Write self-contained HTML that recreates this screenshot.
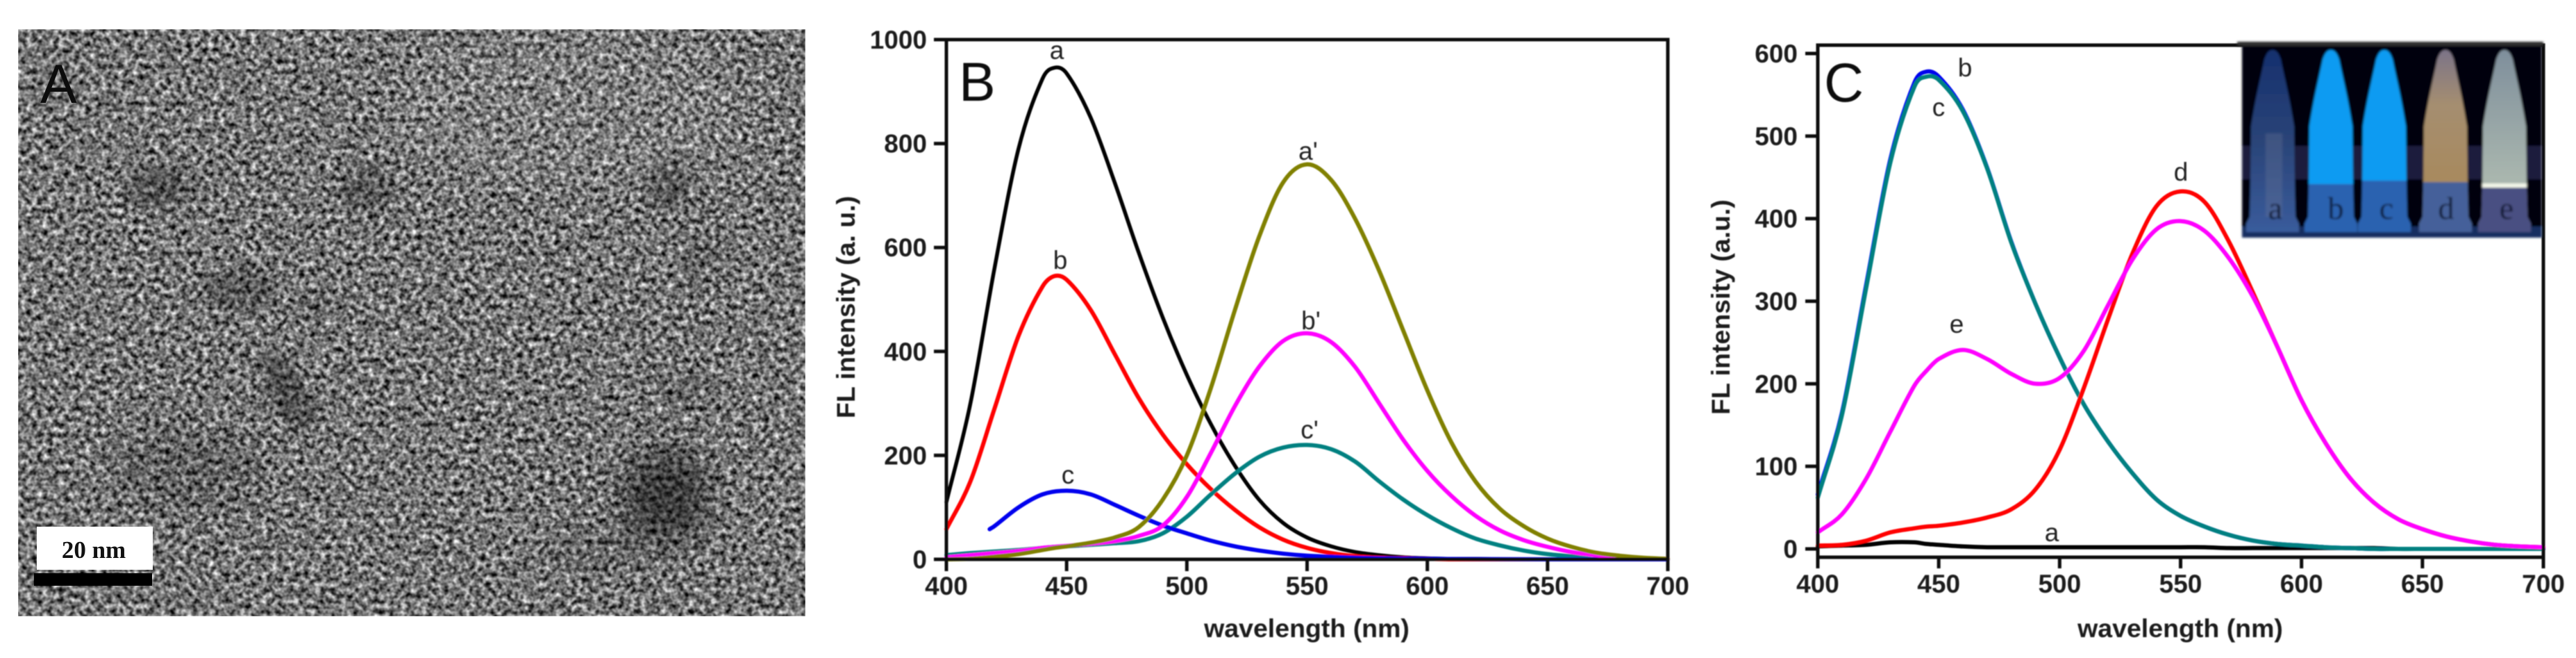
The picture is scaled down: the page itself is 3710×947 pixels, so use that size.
<!DOCTYPE html>
<html lang="en">
<head>
<meta charset="utf-8">
<title>TEM image and fluorescence spectra</title>
<style>
html,body{margin:0;padding:0;background:#fff;}
svg{display:block;}
text{font-family:"Liberation Sans",sans-serif;fill:#1a1a1a;}
.tick{font-weight:bold;font-size:37px;}
.title{font-weight:bold;font-size:37.5px;}
.lbl{font-size:37px;text-anchor:middle;fill:#222;}
.pan{font-size:79px;fill:#0c0c0c;}
.ins{font-family:"Liberation Serif",serif;font-size:46px;text-anchor:middle;fill:#0f1730;}
</style>
</head>
<body>
<svg id="figure" xmlns="http://www.w3.org/2000/svg" width="3710" height="947" viewBox="0 0 3710 947">
  <defs>
    <filter id="grain" x="0" y="0" width="100%" height="100%" color-interpolation-filters="sRGB">
      <feTurbulence type="fractalNoise" baseFrequency="0.13" numOctaves="2" seed="7"/>
      <feColorMatrix type="matrix" values="1.5 0 0 0 -0.29  1.5 0 0 0 -0.29  1.5 0 0 0 -0.29  0 0 0 0 1"/>
      <feGaussianBlur stdDeviation="0.9"/>
    </filter>
    <filter id="soft" x="-40%" y="-40%" width="180%" height="180%"><feGaussianBlur stdDeviation="22"/></filter>
    <filter id="soft2" x="-40%" y="-40%" width="180%" height="180%"><feGaussianBlur stdDeviation="10"/></filter>
    <filter id="ink" x="-2%" y="-2%" width="104%" height="104%"><feGaussianBlur stdDeviation="0.9"/></filter>
    <filter id="inkInset" x="-2%" y="-2%" width="104%" height="104%"><feGaussianBlur stdDeviation="1.6"/></filter>
    <path id="tube-shape" d="M-12,14 C-8,2 -4,0 0,0 C4,0 8,2 12,14 C16,35 24,65 31,110 L32,200 L33,240 L38,250 L38,262 L-38,262 L-38,250 L-33,240 L-32,200 L-31,110 C-24,65 -16,35 -12,14 Z"/>
    <clipPath id="tube-clip"><use href="#tube-shape"/></clipPath>
    <linearGradient id="tube-a-fill" x1="0" y1="0" x2="0" y2="1">
      <stop offset="0" stop-color="#16306e"/>
      <stop offset="0.5" stop-color="#2a4478"/>
      <stop offset="1" stop-color="#3a5c9c"/>
    </linearGradient>
    <linearGradient id="tube-e-fill" x1="0" y1="0" x2="0" y2="1">
      <stop offset="0" stop-color="#7f8f9c"/>
      <stop offset="0.7" stop-color="#a9b6ae"/>
    </linearGradient>
    <linearGradient id="tube-d-fill" x1="0" y1="0" x2="0" y2="1">
      <stop offset="0" stop-color="#7c7488"/>
      <stop offset="0.3" stop-color="#a58e70"/>
      <stop offset="0.7" stop-color="#a88a5f"/>
    </linearGradient>
  </defs>

  <rect x="0" y="0" width="3710" height="947" fill="#ffffff"/>

  <!-- Panel A: TEM micrograph -->
  <g id="panel-a">
    <rect x="26" y="42" width="1134" height="845" fill="#777" filter="url(#grain)"/>
    <g fill="#000">
      <ellipse cx="230" cy="269" rx="48" ry="30" opacity=".28" filter="url(#soft2)"/>
      <ellipse cx="528" cy="272" rx="40" ry="32" opacity=".24" filter="url(#soft2)"/>
      <ellipse cx="964" cy="266" rx="30" ry="38" opacity=".26" filter="url(#soft2)"/>
      <ellipse cx="344" cy="417" rx="52" ry="30" opacity=".26" filter="url(#soft2)"/>
      <ellipse cx="451" cy="441" rx="24" ry="18" opacity=".2" filter="url(#soft2)"/>
      <ellipse cx="415" cy="565" rx="26" ry="60" transform="rotate(-28 415 565)" opacity=".34" filter="url(#soft2)"/>
      <ellipse cx="958" cy="715" rx="62" ry="68" opacity=".5" filter="url(#soft)"/>
      <ellipse cx="268" cy="677" rx="110" ry="60" opacity=".16" filter="url(#soft)"/>
      <ellipse cx="1010" cy="375" rx="30" ry="34" opacity=".14" filter="url(#soft2)"/>
      <ellipse cx="987" cy="562" rx="36" ry="30" opacity=".12" filter="url(#soft2)"/>
      <ellipse cx="860" cy="790" rx="70" ry="30" opacity=".14" filter="url(#soft)"/>
    </g>
    <ellipse cx="820" cy="160" rx="260" ry="110" fill="#fff" opacity=".07" filter="url(#soft)"/>
    <text class="pan" x="58" y="148">A</text>
    <rect x="53" y="758" width="167" height="62" fill="#ffffff"/>
    <rect x="49" y="825" width="170" height="18" fill="#000000"/>
    <text x="135" y="803" text-anchor="middle" style="font-family:'Liberation Serif',serif;font-weight:bold;font-size:35px;fill:#111">20 nm</text>
  </g>

  <!-- Panel B -->
  <g id="panel-b" filter="url(#ink)">
    <g id="b-series"></g>
    <rect x="1363" y="57" width="1039" height="748" fill="none" stroke="#111" stroke-width="5"/>
    <g id="b-axes"></g>
    <text class="pan" x="1381" y="145">B</text>
    <text class="title" x="1882" y="917" text-anchor="middle">wavelength (nm)</text>
    <text class="title" transform="translate(1231,442) rotate(-90)" text-anchor="middle">FL intensity (a. u.)</text>
    <text class="lbl" x="1522" y="85">a</text>
    <text class="lbl" x="1527" y="387">b</text>
    <text class="lbl" x="1538" y="696">c</text>
    <text class="lbl" x="1884" y="230">a'</text>
    <text class="lbl" x="1888" y="474">b'</text>
    <text class="lbl" x="1886" y="631">c'</text>
  </g>

  <!-- Panel C -->
  <g id="panel-c" filter="url(#ink)">
    <g id="c-series"></g>
    <rect x="2618" y="65" width="1045" height="737" fill="none" stroke="#111" stroke-width="5"/>
    <g id="c-axes"></g>
    <text class="pan" x="2627" y="146">C</text>
    <text class="title" x="3140" y="917" text-anchor="middle">wavelength (nm)</text>
    <text class="title" transform="translate(2491,442) rotate(-90)" text-anchor="middle">FL intensity (a.u.)</text>
    <text class="lbl" x="2830" y="110">b</text>
    <text class="lbl" x="2792" y="167">c</text>
    <text class="lbl" x="3141" y="260">d</text>
    <text class="lbl" x="2818" y="479">e</text>
    <text class="lbl" x="2955" y="779">a</text>
  </g>

  <!-- Inset photograph of tubes -->
  <g id="inset" filter="url(#inkInset)">
    <rect x="3222" y="60" width="441" height="6" fill="#333"/>
    <rect x="3229" y="66" width="432" height="276" fill="#050508"/>
    <rect x="3229" y="210" width="432" height="48" fill="#1a1d3c"/>
    <rect x="3229" y="326" width="432" height="16" fill="#162e60"/>

    <g transform="translate(3273,72)">
      <use href="#tube-shape" fill="url(#tube-a-fill)"/>
      <rect x="-10" y="120" width="24" height="120" fill="#6f7a98" opacity=".3" clip-path="url(#tube-clip)"/>
    </g>
    <g transform="translate(3357,72)">
      <use href="#tube-shape" fill="#2a62b0"/>
      <rect x="-50" y="0" width="100" height="193" fill="#0a9bf2" clip-path="url(#tube-clip)"/>
    </g>
    <g transform="translate(3434,72)">
      <use href="#tube-shape" fill="#2a62b0"/>
      <rect x="-50" y="0" width="100" height="188" fill="#0a9bf2" clip-path="url(#tube-clip)"/>
    </g>
    <g transform="translate(3522,72)">
      <use href="#tube-shape" fill="url(#tube-d-fill)"/>
      <rect x="-50" y="190" width="100" height="72" fill="#45609a" clip-path="url(#tube-clip)"/>
    </g>
    <g transform="translate(3607,72)">
      <use href="#tube-shape" fill="url(#tube-e-fill)"/>
      <rect x="-50" y="198" width="100" height="64" fill="#4a4f82" clip-path="url(#tube-clip)"/>
      <rect x="-32" y="192" width="64" height="6" fill="#f2f6e8"/>
    </g>
    <text class="ins" x="3277" y="315">a</text>
    <text class="ins" x="3364" y="315">b</text>
    <text class="ins" x="3437" y="315">c</text>
    <text class="ins" x="3523" y="315">d</text>
    <text class="ins" x="3610" y="315">e</text>
  </g>
</svg>

<script>
// Shared wavelength grid (nm)
const wavelengths = [400,410,420,430,440,445,450,460,470,480,490,500,510,520,530,540,550,560,570,580,590,600,610,620,630,640,650,660,670,680,690,700];
const wavelengthsBlue = [418,420,430,440,450,460,470,480,490,500,510,520,530,540,550,560,570,580,600,650,700];

// Tick labels
const xTickLabels = [400,450,500,550,600,650,700];
const yTickLabelsB = [0,200,400,600,800,1000];
const yTickLabelsC = [0,100,200,300,400,500,600];

// Panel B intensities
const bCurveA = [110,300,560,790,925,946,935,850,725,590,465,355,260,180,115,70,42,25,14,8,4,2,1,1,0,0,0,0,0,0,0,0];
const bCurveB = [58,150,290,430,525,545,538,480,395,310,240,183,135,95,62,38,22,12,6,3,2,1,0,0,0,0,0,0,0,0,0,0];
const bCurveC = [58,64,100,125,132,125,105,84,65,50,36,25,17,11,7,5,3,2,1,0,0];
const bCurveAPrime = [0,1,5,10,18,22,25,32,42,62,115,200,330,480,620,725,760,730,655,555,440,325,225,150,98,64,40,24,13,7,3,1];
const bCurveBPrime = [4,8,12,16,22,24,26,30,35,45,65,120,205,295,370,420,435,418,370,300,230,170,122,84,56,37,24,14,8,4,2,1];
const bCurveCPrime = [8,12,15,18,22,24,25,28,31,35,50,82,125,165,197,215,220,212,188,150,115,85,60,40,27,17,10,6,3,1,0,0];

// Panel C intensities
const cCurveA = [3,4,5,8,8,6,5,3,2,2,2,2,2,2,2,2,2,2,1,1,1,1,1,1,1,0,0,0,0,0,0,0];
const cCurveB = [66,165,320,472,565,578,572,532,462,372,297,232,175,130,92,60,40,27,17,10,6,4,2,1,0,0,0,0,0,0,0,0];
const cCurveC = [62,162,316,468,560,572,568,530,461,371,297,232,175,130,92,60,40,27,17,10,6,4,2,1,0,0,0,0,0,0,0,0];
const cCurveD = [4,5,10,20,25,27,28,32,38,48,72,120,195,278,357,415,433,420,372,310,245,180,128,86,56,36,24,15,9,5,3,2];
const cCurveE = [20,42,85,142,198,216,230,241,230,212,200,207,240,295,350,387,397,385,352,305,245,180,128,86,56,36,24,15,9,5,3,2];

const NS = 'http://www.w3.org/2000/svg';

function xB(nm){ return 1363 + (nm - 400) * 1039 / 300; }
function yB(v){ return 805 - v * 748 / 1000; }
function xC(nm){ return 2618 + (nm - 400) * 1045 / 300; }
function yC(v){ return 790 - v * 713 / 600; }

function curvePath(xs, ys, sx, sy){
  const n = xs.length;
  const px = xs.map(sx);
  const py = ys.map(sy);
  const slope = px.map(function(x, i){
    const a = Math.max(i - 1, 0), b = Math.min(i + 1, n - 1);
    return (py[b] - py[a]) / (px[b] - px[a]);
  });
  let d = 'M' + px[0].toFixed(1) + ',' + py[0].toFixed(1);
  for (let i = 0; i < n - 1; i++){
    const h = (px[i + 1] - px[i]) / 3;
    d += 'C' + (px[i] + h).toFixed(1) + ',' + (py[i] + slope[i] * h).toFixed(1) + ' ' +
         (px[i + 1] - h).toFixed(1) + ',' + (py[i + 1] - slope[i + 1] * h).toFixed(1) + ' ' +
         px[i + 1].toFixed(1) + ',' + py[i + 1].toFixed(1);
  }
  return d;
}

function drawCurve(parent, xs, ys, sx, sy, color, width){
  const el = document.createElementNS(NS, 'path');
  el.setAttribute('d', curvePath(xs, ys, sx, sy));
  el.setAttribute('fill', 'none');
  el.setAttribute('stroke', color);
  el.setAttribute('stroke-width', width);
  el.setAttribute('stroke-linecap', 'round');
  parent.appendChild(el);
  return el;
}

function drawLine(parent, x1, y1, x2, y2){
  const el = document.createElementNS(NS, 'line');
  el.setAttribute('x1', x1);
  el.setAttribute('y1', y1);
  el.setAttribute('x2', x2);
  el.setAttribute('y2', y2);
  el.setAttribute('stroke', '#111');
  el.setAttribute('stroke-width', 5);
  parent.appendChild(el);
  return el;
}

function drawText(parent, x, y, anchor, str){
  const el = document.createElementNS(NS, 'text');
  el.setAttribute('x', x);
  el.setAttribute('y', y);
  el.setAttribute('text-anchor', anchor);
  el.setAttribute('class', 'tick');
  el.textContent = str;
  parent.appendChild(el);
  return el;
}

const bSeries = document.getElementById('b-series');
const bAxes = document.getElementById('b-axes');
const cSeries = document.getElementById('c-series');
const cAxes = document.getElementById('c-axes');

let line;
line = drawCurve(bSeries, wavelengths, bCurveA, xB, yB, '#000000', 5.5);


line = drawCurve(bSeries, wavelengths, bCurveB, xB, yB, '#ff0000', 6);


line = drawCurve(bSeries, wavelengths, bCurveCPrime, xB, yB, '#008080', 6);


line = drawCurve(bSeries, wavelengthsBlue, bCurveC, xB, yB, '#0000ee', 6);


line = drawCurve(bSeries, wavelengths, bCurveBPrime, xB, yB, '#ff00ff', 6);


line = drawCurve(bSeries, wavelengths, bCurveAPrime, xB, yB, '#808000', 6);



line = drawCurve(cSeries, wavelengths, cCurveA, xC, yC, '#000000', 6);


line = drawCurve(cSeries, wavelengths, cCurveB, xC, yC, '#0000ee', 6);


line = drawCurve(cSeries, wavelengths, cCurveC, xC, yC, '#008080', 6);


line = drawCurve(cSeries, wavelengths, cCurveD, xC, yC, '#ff0000', 6);


line = drawCurve(cSeries, wavelengths, cCurveE, xC, yC, '#ff00ff', 6);



xTickLabels.forEach(function(nm){
  const tick = drawLine(bAxes, xB(nm), 805, xB(nm), 822);
  
  
  const label = drawText(bAxes, xB(nm), 856, 'middle', String(nm));
  
  

  const tickC = drawLine(cAxes, xC(nm), 802, xC(nm), 818);
  
  
  const labelC = drawText(cAxes, xC(nm), 853, 'middle', String(nm));
  
  
});

yTickLabelsB.forEach(function(v){
  const tick = drawLine(bAxes, 1345, yB(v), 1363, yB(v));
  
  
  const label = drawText(bAxes, 1335, yB(v) + 13, 'end', String(v));
  
  
});

yTickLabelsC.forEach(function(v){
  const tick = drawLine(cAxes, 2600, yC(v), 2618, yC(v));
  
  
  const label = drawText(cAxes, 2589, yC(v) + 13, 'end', String(v));
  
  
});
</script>
</body>
</html>
